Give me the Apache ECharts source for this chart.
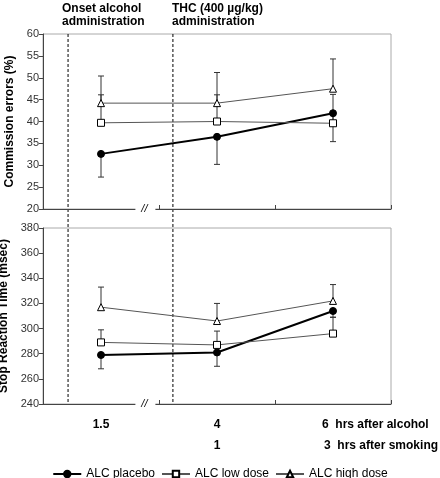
<!DOCTYPE html>
<html><head><meta charset="utf-8">
<script src="https://cdn.jsdelivr.net/npm/echarts@6/dist/echarts.min.js"></script>
<style>body{margin:0}#main{width:440px;height:478px}</style></head>
<body><div id="main"></div>
<script>
var xPos = [0.5, 1.5, 2.5];
// Commission errors (%)
var cePlacebo = [32.6, 36.5, 41.9];
var ceLow = [39.7, 40.0, 39.6];
var ceHigh = [44.2, 44.2, 47.5];
var cePlaceboErr = [5.3, 6.3, 6.5];   // drawn downward
var ceLowErr = [6.4, 6.1, 6.6];       // drawn upward
var ceHighErr = [6.2, 7.0, 6.8];      // drawn upward
// Stop reaction time (msec)
var srtPlacebo = [279, 281, 314];
var srtLow = [289, 287, 296];
var srtHigh = [317, 306, 322];
var srtPlaceboErr = [11, 11, 5];
var srtLowErr = [10, 11, 13];
var srtHighErr = [16, 14, 13];
var dashX = [0.216, 1.12];
var breakX = 0.9;

var myChart = echarts.init(document.getElementById('main'));

function pts(vals) {
    return vals.map(function (v, i) { return [xPos[i], v]; });
}
function errData(vals, errs, dir) {
    return vals.map(function (v, i) { return [xPos[i], v, v + dir * errs[i]]; });
}
function errSeries(vals, errs, dir, gi) {
    return {
        type: 'custom', xAxisIndex: gi, yAxisIndex: gi, silent: true, z: 1,
        data: errData(vals, errs, dir),
        renderItem: function (params, api) {
            var a = api.coord([api.value(0), api.value(1)]);
            var b = api.coord([api.value(0), api.value(2)]);
            var st = {stroke: '#333', lineWidth: 1};
            return {type: 'group', children: [
                {type: 'line', shape: {x1: a[0], y1: a[1], x2: b[0], y2: b[1]}, style: st},
                {type: 'line', shape: {x1: b[0] - 3, y1: b[1], x2: b[0] + 3, y2: b[1]}, style: st}
            ]};
        }
    };
}
function lineSeries(name, vals, gi, sym, color, width, fill) {
    return {
        name: name, type: 'line', xAxisIndex: gi, yAxisIndex: gi, z: 3,
        data: pts(vals), symbol: sym, symbolSize: 7,
        lineStyle: {color: color, width: width},
        itemStyle: {color: fill, borderColor: '#000', borderWidth: 1}
    };
}

var xAxisBase = {
    type: 'value', min: 0, max: 3, interval: 1,
    axisLine: {lineStyle: {color: '#444'}},
    axisTick: {inside: true, length: 4, lineStyle: {color: '#444'}},
    axisLabel: {show: false}, splitLine: {show: false}
};
var yAxisBase = {
    type: 'value', nameLocation: 'middle', nameGap: 27,
    nameTextStyle: {fontWeight: 'bold', fontSize: 12, color: '#000', fontFamily: 'Liberation Sans'},
    axisLine: {show: true, lineStyle: {color: '#444'}},
    axisTick: {show: true, length: 4, lineStyle: {color: '#444'}},
    axisLabel: {fontSize: 11, color: '#333', margin: 4, fontFamily: 'Liberation Sans'},
    splitLine: {show: false}
};

var option = {
    animation: false,
    textStyle: {fontFamily: 'Liberation Sans'},
    grid: [
        {left: 43, top: 34, width: 348, height: 175, show: true, borderColor: '#aaa', borderWidth: 1,
            outerBoundsMode: 'none', containLabel: false},
        {left: 43, top: 228, width: 348, height: 176, show: true, borderColor: '#aaa', borderWidth: 1,
            outerBoundsMode: 'none', containLabel: false}
    ],
    xAxis: [
        Object.assign({gridIndex: 0}, xAxisBase),
        Object.assign({gridIndex: 1}, xAxisBase)
    ],
    yAxis: [
        Object.assign({gridIndex: 0, min: 20, max: 60, interval: 5, name: 'Commission errors (%)'}, yAxisBase),
        Object.assign({gridIndex: 1, min: 240, max: 380, interval: 20, name: 'Stop Reaction Time (msec)'}, yAxisBase)
    ],
    legend: {
        top: 463, left: 'center', itemGap: 6, itemWidth: 28, itemHeight: 8,
        textStyle: {fontSize: 12, color: '#000'},
        data: ['ALC placebo', 'ALC low dose', 'ALC high dose']
    },
    series: [
        errSeries(cePlacebo, cePlaceboErr, -1, 0),
        errSeries(ceLow, ceLowErr, 1, 0),
        errSeries(ceHigh, ceHighErr, 1, 0),
        errSeries(srtPlacebo, srtPlaceboErr, -1, 1),
        errSeries(srtLow, srtLowErr, 1, 1),
        errSeries(srtHigh, srtHighErr, 1, 1),
        lineSeries('ALC placebo', cePlacebo, 0, 'circle', '#000', 2, '#000'),
        lineSeries('ALC low dose', ceLow, 0, 'rect', '#555', 1, '#fff'),
        lineSeries('ALC high dose', ceHigh, 0, 'triangle', '#555', 1, '#fff'),
        lineSeries('ALC placebo', srtPlacebo, 1, 'circle', '#000', 2, '#000'),
        lineSeries('ALC low dose', srtLow, 1, 'rect', '#555', 1, '#fff'),
        lineSeries('ALC high dose', srtHigh, 1, 'triangle', '#555', 1, '#fff')
    ]
};
myChart.setOption(option);

// overlays positioned from the axes
var g = [];
var top0 = myChart.convertToPixel({gridIndex: 0}, [0, 60]);
var bot1 = myChart.convertToPixel({gridIndex: 1}, [0, 240]);
dashX.forEach(function (x) {
    var px = myChart.convertToPixel({gridIndex: 0}, [x, 60])[0];
    g.push({type: 'line', z: 0, shape: {x1: px, y1: top0[1], x2: px, y2: bot1[1]},
        style: {stroke: '#000', lineWidth: 1, lineDash: [3, 2]}});
});
[[0, 20], [1, 240]].forEach(function (d) {
    var p = myChart.convertToPixel({gridIndex: d[0]}, [breakX, d[1]]);
    g.push({type: 'rect', z: 10, shape: {x: p[0] - 12, y: p[1] - 2, width: 20, height: 4}, style: {fill: '#fff'}});
    g.push({type: 'text', z: 11, x: p[0] - 3, y: p[1], style: {text: '//', fontSize: 11, fontStyle: 'italic',
        fill: '#000', align: 'center', verticalAlign: 'middle'}});
});
var bold = {fontSize: 12, fontWeight: 'bold', fill: '#000', fontFamily: 'Liberation Sans'};
function txt(x, y, s, align) {
    g.push({type: 'text', x: x, y: y, style: Object.assign({text: s, align: align || 'left', verticalAlign: 'middle'}, bold)});
}
var p0 = myChart.convertToPixel({gridIndex: 1}, [xPos[0], 240]);
var p1 = myChart.convertToPixel({gridIndex: 1}, [xPos[1], 240]);
var p2 = myChart.convertToPixel({gridIndex: 1}, [xPos[2], 240]);
txt(p0[0], 425, '1.5', 'center');
txt(p1[0], 425, '4', 'center');
txt(p2[0] - 11, 425, '6  hrs after alcohol');
txt(p1[0], 446, '1', 'center');
txt(p2[0] - 9, 446, '3  hrs after smoking');
g.push({type: 'text', x: 62, y: 2, style: Object.assign({text: 'Onset alcohol\nadministration', lineHeight: 13}, bold)});
g.push({type: 'text', x: 172, y: 2, style: Object.assign({text: 'THC (400 µg/kg)\nadministration', lineHeight: 13}, bold)});
myChart.setOption({graphic: g});
</script>
</body></html>
